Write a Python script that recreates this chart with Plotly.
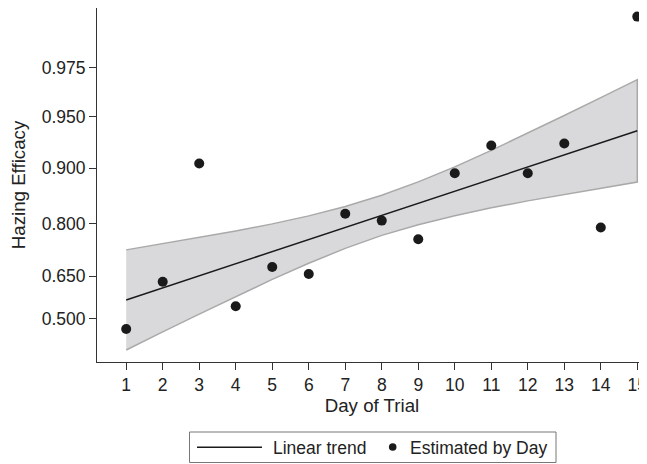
import numpy as np
import plotly.graph_objects as go

# ---- data ----
days = list(range(1, 16))
estimated = [0.462, 0.631, 0.906, 0.545, 0.680, 0.657, 0.822, 0.807,
             0.761, 0.893, 0.926, 0.893, 0.928, 0.791, 0.988]
trend = [0.5676, 0.6101, 0.6513, 0.6902, 0.7267, 0.7603, 0.7910, 0.8186,
         0.8434, 0.8653, 0.8846, 0.9014, 0.9160, 0.9287, 0.9395]
band_upper = [0.7317, 0.7488, 0.7655, 0.7823, 0.7995, 0.8176, 0.8370, 0.8582,
              0.8804, 0.9017, 0.9210, 0.9374, 0.9510, 0.9618, 0.9704]
band_lower = [0.3873, 0.4517, 0.5164, 0.5801, 0.6392, 0.6917, 0.7360, 0.7712,
              0.7976, 0.8180, 0.8344, 0.8480, 0.8598, 0.8705, 0.8802]
y_ticks = [0.500, 0.650, 0.800, 0.900, 0.950, 0.975]
y_ticklabels = ["0.500", "0.650", "0.800", "0.900", "0.950", "0.975"]
legend_labels = ["Linear trend", "Estimated by Day"]
x_range = [0.2, 15.266]
y_range_prob = [0.3465, 0.9894]


def logit(p):
    p = np.asarray(p, dtype=float)
    return np.log(p / (1 - p))


FONT = "Liberation Sans, Arial, sans-serif"
TXT = "#222222"
AX = "#333333"
DARK = "#1a1a1a"

# page body has an 8px margin; shift the figure so it lines up with the window
OFF = 8
W, H = 647, 464 - OFF
ML, MR, MT, MB = 97 - OFF, OFF, 8 - OFF, H - (362 - OFF)
PW, PH = W - ML - MR, H - MT - MB


def px(xp):
    """window pixel x -> paper coordinate"""
    return (xp - OFF - ML) / PW


def py(yp):
    """window pixel y -> paper coordinate"""
    return (H - MB - (yp - OFF)) / PH


fig = go.Figure()

# confidence band (closed polygon)
fig.add_trace(go.Scatter(
    x=days + days[::-1],
    y=list(logit(band_upper)) + list(logit(band_lower)[::-1]),
    fill="toself", fillcolor="#d9d9db",
    line=dict(color="#a9a9a9", width=1.5),
    mode="lines", hoverinfo="skip", showlegend=False,
))

fig.add_trace(go.Scatter(
    x=days, y=logit(trend), mode="lines", name=legend_labels[0],
    line=dict(color=DARK, width=1.5), showlegend=False,
))

fig.add_trace(go.Scatter(
    x=days, y=logit(estimated), mode="markers", name=legend_labels[1],
    marker=dict(color=DARK, size=10), showlegend=False, cliponaxis=False,
))

# ---- legend (drawn in paper coordinates) ----
shapes = [
    dict(type="rect", xref="paper", yref="paper",
         x0=px(189.5), x1=px(556), y0=py(432), y1=py(462.5),
         line=dict(color="#777777", width=1), fillcolor="white"),
    dict(type="line", xref="paper", yref="paper",
         x0=px(197), x1=px(262), y0=py(447.3), y1=py(447.3),
         line=dict(color=DARK, width=1.5)),
    dict(type="circle", xref="paper", yref="paper",
         xsizemode="pixel", ysizemode="pixel",
         xanchor=px(392.7), yanchor=py(447), x0=-3.8, x1=3.8, y0=-3.8, y1=3.8,
         line=dict(color=DARK, width=0), fillcolor=DARK),
]
annotations = [
    dict(text=legend_labels[0], xref="paper", yref="paper",
         x=px(270.5), y=py(447.5), xanchor="left", yanchor="middle",
         showarrow=False, font=dict(size=17.5, color=TXT)),
    dict(text=legend_labels[1], xref="paper", yref="paper",
         x=px(407.5), y=py(447.5), xanchor="left", yanchor="middle",
         showarrow=False, font=dict(size=17.5, color=TXT)),
]

fig.update_layout(
    width=W, height=H,
    margin=dict(l=ML, r=MR, t=MT, b=MB, autoexpand=False),
    paper_bgcolor="white", plot_bgcolor="white",
    font=dict(family=FONT, size=17.5, color=TXT),
    showlegend=False,
    shapes=shapes, annotations=annotations,
)

fig.update_xaxes(
    range=x_range, tickmode="array", tickvals=days,
    showline=True, linecolor=AX, linewidth=1,
    ticks="outside", ticklen=7, tickcolor=AX, tickwidth=1,
    showgrid=False, zeroline=False, automargin=False,
    ticklabeloverflow="allow",
    tickfont=dict(size=17.5),
    title=dict(text="Day of Trial", font=dict(size=18.7), standoff=2),
)

fig.update_yaxes(
    range=list(logit(y_range_prob)), tickmode="array",
    tickvals=list(logit(y_ticks)), ticktext=y_ticklabels,
    showline=True, linecolor=AX, linewidth=1,
    ticks="outside", ticklen=7, tickcolor=AX, tickwidth=1,
    showgrid=False, zeroline=False, automargin=False,
    ticklabeloverflow="allow",
    tickfont=dict(size=17.5),
    title=dict(text="Hazing Efficacy", font=dict(size=18.7), standoff=14),
)

fig.write_html("out.html")
